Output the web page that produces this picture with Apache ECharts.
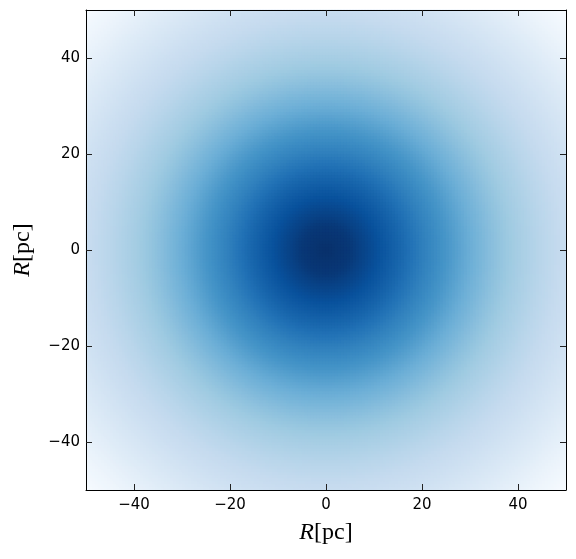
<!DOCTYPE html>
<html><head><meta charset="utf-8">
<script src="https://cdn.jsdelivr.net/npm/echarts@6/dist/echarts.min.js"></script>
<style>html,body{margin:0;padding:0;background:#fff}#c{width:576px;height:559px}</style>
</head><body><div id="c"></div>
<script>
// axis range and ticks (pc)
const axisMin = -50, axisMax = 50;
const tickValues = [-40, -20, 0, 20, 40];
// radial profile: radius (pc) -> normalised colour level
const profileRadius = [0, 5, 10, 15, 20, 25, 30, 35, 40, 45, 50, 55, 60, 65, 71];
const profileLevel  = [1.0, 0.97, 0.89, 0.80, 0.70, 0.61, 0.50, 0.42, 0.35, 0.29, 0.24, 0.18, 0.12, 0.06, 0.0];
// Blues colour map
const blues = ['#f7fbff','#deebf7','#c6dbef','#9ecae1','#6baed6','#4292c6','#2171b5','#08519c','#08306b'];
const cellsPerSide = 160;

function levelAt(r) {
  if (r >= profileRadius[profileRadius.length - 1]) return profileLevel[profileLevel.length - 1];
  for (let k = 0; k < profileRadius.length - 1; k++) {
    if (r <= profileRadius[k + 1]) {
      const t = (r - profileRadius[k]) / (profileRadius[k + 1] - profileRadius[k]);
      return profileLevel[k] + t * (profileLevel[k + 1] - profileLevel[k]);
    }
  }
  return 0;
}
const cats = [];
const step = (axisMax - axisMin) / cellsPerSide;
for (let i = 0; i < cellsPerSide; i++) cats.push(axisMin + (i + 0.5) * step);
const cells = [];
for (let i = 0; i < cellsPerSide; i++) {
  for (let j = 0; j < cellsPerSide; j++) {
    const r = Math.sqrt(cats[i] * cats[i] + cats[j] * cats[j]);
    cells.push([i, j, levelAt(r)]);
  }
}

const chart = echarts.init(document.getElementById('c'), null, {renderer: 'canvas'});
const gridPos = {left: 86, top: 10, width: 480, height: 480};
const minusFmt = v => String(v).replace('-', '\u2212');
const labelFont = {fontFamily: 'DejaVu Sans', fontSize: 15, color: '#000'};
const nameRich = {
  it: {fontFamily: 'Liberation Serif', fontStyle: 'italic', fontSize: 24, color: '#000'},
  rm: {fontFamily: 'Liberation Serif', fontSize: 24, color: '#000'}
};
function valAxis(extra) {
  return Object.assign({
    type: 'value', gridIndex: 1, min: axisMin, max: axisMax, z: 10,
    splitLine: {show: false},
    axisLine: {show: true, onZero: false, lineStyle: {color: '#000', width: 1}},
    axisTick: {show: true, inside: true, length: 6, customValues: tickValues, lineStyle: {color: '#222'}},
    axisLabel: {show: false}
  }, extra);
}
chart.setOption({
  animation: false,
  grid: [Object.assign({}, gridPos), Object.assign({}, gridPos)],
  visualMap: {type: 'continuous', show: false, min: 0, max: 1, seriesIndex: 0, inRange: {color: blues}},
  xAxis: [
    {type: 'category', gridIndex: 0, data: cats, show: false},
    valAxis({position: 'bottom',
      axisLabel: Object.assign({show: true, margin: 8, customValues: tickValues, formatter: minusFmt}, labelFont),
      name: '{it|R}{rm|[pc]}', nameLocation: 'middle', nameGap: 31,
      nameTextStyle: {rich: nameRich}}),
    valAxis({position: 'top'})
  ],
  yAxis: [
    {type: 'category', gridIndex: 0, data: cats, show: false},
    valAxis({position: 'left',
      axisLabel: Object.assign({show: true, margin: 6, customValues: tickValues, formatter: minusFmt}, labelFont),
      name: '{it|R}{rm|[pc]}', nameLocation: 'middle', nameGap: 51,
      nameTextStyle: {rich: nameRich}}),
    valAxis({position: 'right'})
  ],
  series: [{
    type: 'heatmap', xAxisIndex: 0, yAxisIndex: 0, data: cells,
    progressive: 0, itemStyle: {borderWidth: 0}, emphasis: {disabled: true}
  }]
});
</script></body></html>
